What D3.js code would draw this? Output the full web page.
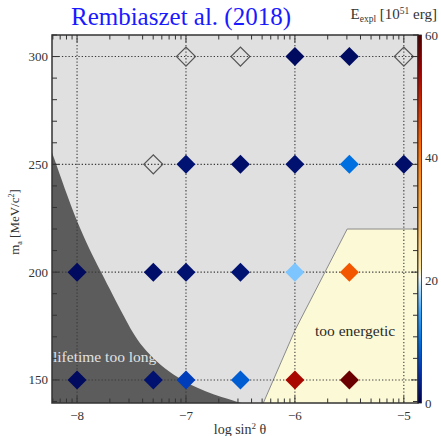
<!DOCTYPE html>
<html>
<head>
<meta charset="utf-8">
<script src="https://cdn.jsdelivr.net/npm/d3@7"></script>
<style>
  html, body { margin: 0; padding: 0; background: #fff; }
  svg text { font-family: "Liberation Serif", "DejaVu Serif", serif; }
</style>
</head>
<body>
<svg id="chart" width="441" height="436"></svg>
<script>
// Grid of simulated models: axion mass vs. mixing, coloured by explosion energy
const masses = [300, 250, 200, 150];
const logSin2 = [-8, -7.3, -7, -6.5, -6, -5.5, -5];
// Explosion energy in 1e51 erg; null = model without a successful explosion (hollow marker);
// undefined = no model at that grid point
const energy300 = [undefined, undefined, null, null, 1.0, 1.2, null];
const energy250 = [undefined, null, 2.0, 1.5, 1.8, 10, 1.5];
const energy200 = [1.0, 1.5, 1.8, 2.0, 17, 44, undefined];
const energy150 = [1.0, 1.8, 6, 8.5, 53, 58, undefined];
const energyRows = [energy300, energy250, energy200, energy150];

// Region boundaries in data units (log sin^2 theta, mass)
const lifetimeEdge = [[-8.35, 272], [-8.23, 255.9], [-8.0, 222], [-7.78, 200], [-7.56, 178.5], [-7.42, 165.4], [-7.12, 151.5], [-6.81, 144.1], [-6.53, 139.9], [-6.4, 138]];
const energeticEdge = [[-6.33, 137], [-6.29, 139.3], [-6.0, 173], [-5.52, 220], [-4.8, 220]];

// Colour bar definition
const cbTicks = [0, 20, 40, 60];
const cbStops = [0, 5, 10, 15, 19, 20.5, 22, 28, 35, 42, 48, 54, 60];
const cbColors = ["#00004a", "#0030b0", "#0070e0", "#40a8ff", "#b8e2ff", "#f4f8f0", "#ffe8a0", "#ffc060", "#ff9a28", "#ff6a00", "#d83000", "#a00000", "#500000"];

const xTickVals = [-8, -7, -6, -5];
const yTickVals = [150, 200, 250, 300];

const svg = d3.select("#chart");
const L = 52, R = 418, T = 35, B = 403;

const x = d3.scaleLinear().domain([-8.23, -4.87]).range([L, R]);
const y = d3.scaleLinear().domain([139.3, 310]).range([B, T]);
const cb = d3.scaleLinear().domain([0, 60]).range([B, T]);
const color = d3.scaleLinear().domain(cbStops).range(cbColors).clamp(true);

const defs = svg.append("defs");
defs.append("clipPath").attr("id", "plotClip")
  .append("rect").attr("x", L).attr("y", T).attr("width", R - L).attr("height", B - T);

// Background
svg.append("rect").attr("x", L).attr("y", T).attr("width", R - L).attr("height", B - T).attr("fill", "#e0e0e0");

const plot = svg.append("g").attr("clip-path", "url(#plotClip)");

// "lifetime too long" region
const edgeLine = d3.line().x(d => x(d[0])).y(d => y(d[1])).curve(d3.curveBasis);
plot.append("path")
  .attr("d", edgeLine(lifetimeEdge) + "L" + x(-6.4) + "," + y(130) + "L" + x(-8.35) + "," + y(130) + "Z")
  .attr("fill", "#5c5c5c");

// "too energetic" region
const polyLine = d3.line().x(d => x(d[0])).y(d => y(d[1]));
plot.append("path")
  .attr("d", polyLine(energeticEdge.concat([[-4.8, 130], [-6.33, 130]])) + "Z")
  .attr("fill", "#fcfad6");
plot.append("path")
  .attr("d", polyLine(energeticEdge))
  .attr("fill", "none").attr("stroke", "#8a8a8a").attr("stroke-width", 1);

// Dotted grid
const grid = svg.append("g").attr("stroke", "#3a3a3a").attr("stroke-width", 1.1).attr("stroke-dasharray", "1.3,2");
grid.selectAll("line.v").data(xTickVals).join("line")
  .attr("x1", d => x(d)).attr("x2", d => x(d)).attr("y1", T).attr("y2", B);
grid.selectAll("line.h").data(yTickVals).join("line")
  .attr("x1", L).attr("x2", R).attr("y1", d => y(d)).attr("y2", d => y(d));

// Region labels
svg.append("text").attr("x", 53).attr("y", 362).attr("font-size", 15.5).attr("fill", "#e2e2e2").text("lifetime too long");
svg.append("text").attr("x", 315).attr("y", 336).attr("font-size", 15.5).attr("fill", "#2a2a2a").text("too energetic");

// Model markers
const cells = [];
energyRows.forEach((row, i) => row.forEach((v, j) => {
  if (v !== undefined) cells.push({ m: masses[i], s: logSin2[j], e: v });
}));
const diamond = d3.symbol().type(d3.symbolSquare).size(180);
svg.append("g").selectAll("path").data(cells).join("path")
  .attr("d", diamond)
  .attr("transform", d => `translate(${x(d.s)},${y(d.m)}) rotate(45)`)
  .attr("fill", d => d.e === null ? "none" : color(d.e))
  .attr("stroke", d => d.e === null ? "#555" : "none")
  .attr("stroke-width", 1.2);

// Axis ticks (inside the frame)
const ticks = svg.append("g").attr("stroke", "#333").attr("stroke-width", 1);
const xMinor = [];
for (let n = -9; n <= -5; n++) for (let k = 1; k <= 9; k++) {
  const v = n + Math.log10(k);
  if (v > -8.23 && v < -4.87) xMinor.push({ v, major: k === 1 });
}
xMinor.forEach(t => {
  const len = t.major ? 7 : 4.5;
  ticks.append("line").attr("x1", x(t.v)).attr("x2", x(t.v)).attr("y1", B).attr("y2", B - len);
  ticks.append("line").attr("x1", x(t.v)).attr("x2", x(t.v)).attr("y1", T).attr("y2", T + len);
});
d3.range(140, 311, 10).forEach(v => {
  const len = v % 50 === 0 ? 7 : 5;
  ticks.append("line").attr("x1", L).attr("x2", L + len).attr("y1", y(v)).attr("y2", y(v));
  ticks.append("line").attr("x1", R).attr("x2", R - len).attr("y1", y(v)).attr("y2", y(v));
});

// Frame
svg.append("rect").attr("x", L).attr("y", T).attr("width", R - L).attr("height", B - T)
  .attr("fill", "none").attr("stroke", "#333").attr("stroke-width", 1.5);

// Tick labels
svg.append("g").selectAll("text").data(xTickVals).join("text")
  .attr("x", d => x(d)).attr("y", 420).attr("text-anchor", "middle")
  .attr("font-size", 13).attr("fill", "#333")
  .text(d => "\u2212" + Math.abs(d));
svg.append("g").selectAll("text").data(yTickVals).join("text")
  .attr("x", 48).attr("y", d => y(d) + 4.5).attr("text-anchor", "end")
  .attr("font-size", 13).attr("fill", "#333")
  .text(d => d);

// Axis titles
const xt = svg.append("text").attr("x", 240).attr("y", 434).attr("text-anchor", "middle").attr("font-size", 14).attr("fill", "#333");
xt.append("tspan").text("log sin");
xt.append("tspan").attr("font-size", 9).attr("dy", -5).text("2");
xt.append("tspan").attr("dy", 5).text(" \u03b8");

const yt = svg.append("text").attr("transform", "translate(19,222) rotate(-90)").attr("text-anchor", "middle").attr("font-size", 13).attr("fill", "#333");
yt.append("tspan").text("m");
yt.append("tspan").attr("font-size", 8).attr("dy", 3).text("a");
yt.append("tspan").attr("dy", -3).text(" [MeV/c");
yt.append("tspan").attr("font-size", 8).attr("dy", -5).text("2");
yt.append("tspan").attr("dy", 5).text("]");

// Colour bar
const grad = defs.append("linearGradient").attr("id", "cbGrad")
  .attr("x1", 0).attr("y1", 1).attr("x2", 0).attr("y2", 0);
cbStops.forEach((s, i) => grad.append("stop").attr("offset", s / 60).attr("stop-color", cbColors[i]));
svg.append("rect").attr("x", R).attr("y", T).attr("width", 3.5).attr("height", B - T)
  .attr("fill", "url(#cbGrad)").attr("stroke", "#222").attr("stroke-width", 0.8);
svg.append("g").selectAll("text").data(cbTicks).join("text")
  .attr("x", 425).attr("y", d => cb(d) + 4.5).attr("font-size", 13).attr("fill", "#333")
  .text(d => d);

// Titles
svg.append("text").attr("x", 181).attr("y", 25).attr("text-anchor", "middle")
  .attr("font-size", 25).attr("fill", "#1a1aff").text("Rembiaszet al. (2018)");
const et = svg.append("text").attr("x", 437).attr("y", 19).attr("text-anchor", "end").attr("font-size", 15).attr("fill", "#333");
et.append("tspan").text("E");
et.append("tspan").attr("font-size", 9.5).attr("dy", 3).text("expl");
et.append("tspan").attr("dy", -3).text(" [10");
et.append("tspan").attr("font-size", 9.5).attr("dy", -5).text("51");
et.append("tspan").attr("dy", 5).text(" erg]");
</script>
</body>
</html>
